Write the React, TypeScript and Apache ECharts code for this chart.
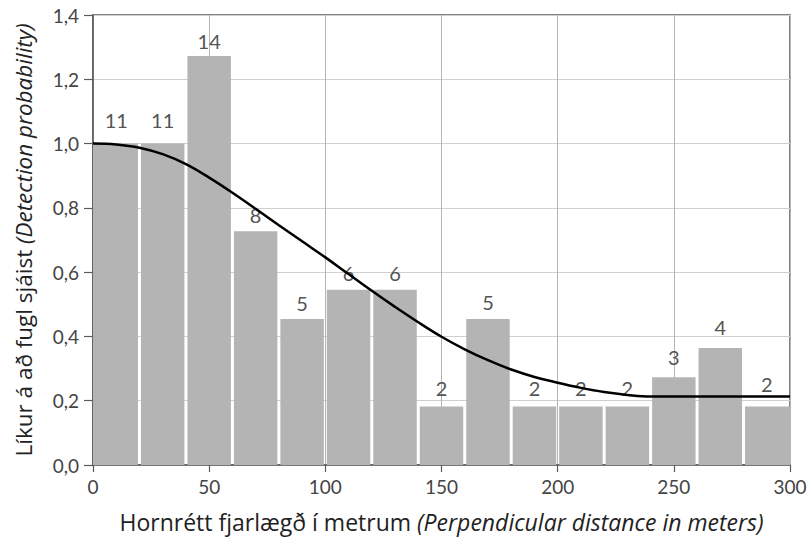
import React, { useEffect, useRef } from "react";
import * as echarts from "echarts";

// Histogram bins (metres) and number of birds per bin
const binStarts = [0, 20, 40, 60, 80, 100, 120, 140, 160, 180, 200, 220, 240, 260, 280];
const binWidth = 20;
const counts = [11, 11, 14, 8, 5, 6, 6, 2, 5, 2, 2, 2, 3, 4, 2];
// Bars are scaled so that the first bin equals probability 1
const scaleCount = 11;

// Fitted detection function
const curveX = [0, 10, 20, 30, 40, 50, 60, 70, 80, 90, 100, 110, 120, 130, 140, 150, 160, 170, 180, 190, 200, 210, 220, 230, 240, 250, 260, 270, 280, 290, 300];
const curveY = [1.0, 0.997, 0.987, 0.967, 0.936, 0.894, 0.847, 0.797, 0.746, 0.696, 0.646, 0.594, 0.542, 0.492, 0.444, 0.399, 0.36, 0.326, 0.297, 0.274, 0.256, 0.24, 0.227, 0.218, 0.213, 0.213, 0.213, 0.213, 0.213, 0.213, 0.213];

const yTicks = [0, 0.2, 0.4, 0.6, 0.8, 1.0, 1.2, 1.4];

// how far above each bar its count is written (px)
const labelLift = [24, 24, 15, 16, 16, 17, 17, 19, 17, 19, 19, 19, 20, 21, 23];

const FONT = "Lato, 'Open Sans', sans-serif";
const TITLE_FONT = "'Open Sans', Lato, sans-serif";

export default function App() {
  const ref = useRef<HTMLDivElement>(null);

  useEffect(() => {
    if (!ref.current) return;
    const chart = echarts.init(ref.current, undefined, { renderer: "svg" });

    const barData = binStarts.map((s, i) => [s, s + binWidth, counts[i] / scaleCount, counts[i]]);
    const lineData = curveX.map((x, i) => [x, curveY[i]]);

    chart.setOption({
      animation: false,
      backgroundColor: "#ffffff",
      textStyle: { fontFamily: FONT },
      grid: {
        left: 93,
        top: 15,
        width: 697,
        height: 450,
        show: true,
        borderColor: "#5a5a5a",
        borderWidth: 1.5,
        backgroundColor: "transparent",
      },
      xAxis: {
        type: "value",
        min: 0,
        max: 300,
        interval: 50,
        name: "{n|Hornrétt fjarlægð í metrum }{i|(Perpendicular distance in meters)}",
        nameLocation: "middle",
        nameGap: 45,
        nameTextStyle: {
          rich: {
            n: { fontSize: 23, color: "#222", fontFamily: TITLE_FONT },
            i: { fontSize: 23, color: "#222", fontFamily: TITLE_FONT, fontStyle: "italic" },
          },
        },
        axisLine: { show: true, lineStyle: { color: "#5a5a5a", width: 1.5 } },
        axisTick: { show: true, length: 7, lineStyle: { color: "#5a5a5a", width: 1.2 } },
        axisLabel: { color: "#444", fontSize: 19, margin: 12, fontFamily: FONT },
        splitLine: { show: true, lineStyle: { color: "#b4b4b4", width: 1 } },
      },
      yAxis: {
        type: "value",
        min: 0,
        max: 1.4,
        interval: 0.2,
        name: "{n|Líkur á að fugl sjáist }{i|(Detection probability)}",
        nameLocation: "middle",
        nameGap: 58,
        nameTextStyle: {
          rich: {
            n: { fontSize: 22.5, color: "#222", fontFamily: TITLE_FONT },
            i: { fontSize: 22.5, color: "#222", fontFamily: TITLE_FONT, fontStyle: "italic" },
          },
        },
        axisLine: { show: true, lineStyle: { color: "#5a5a5a", width: 1.5 } },
        axisTick: { show: true, length: 9, lineStyle: { color: "#5a5a5a", width: 1.2 } },
        axisLabel: {
          color: "#444",
          fontSize: 19,
          margin: 14,
          fontFamily: FONT,
          formatter: (v: number) => {
            const t = yTicks.find((k) => Math.abs(k - v) < 1e-6);
            return (t === undefined ? v : t).toFixed(1).replace(".", ",");
          },
        },
        splitLine: { show: true, lineStyle: { color: "#cfcfcf", width: 1 } },
      },
      series: [
        {
          type: "custom",
          data: barData,
          encode: { x: [0, 1], y: 2 },
          z: 2,
          renderItem: (params: any, api: any) => {
            const x0 = api.value(0);
            const x1 = api.value(1);
            const h = api.value(2);
            const n = api.value(3);
            const top = api.coord([x0, h]);
            const bottom = api.coord([x1, 0]);
            const gap = 1.5;
            const left = top[0] + (x0 === 0 ? 0 : gap);
            const right = bottom[0] - (x1 === 300 ? 0 : gap);
            return {
              type: "group",
              children: [
                {
                  type: "rect",
                  shape: { x: left, y: top[1], width: right - left, height: bottom[1] - top[1] },
                  style: { fill: "#b4b4b4" },
                },
                {
                  type: "text",
                  z2: 10,
                  style: {
                    text: String(n),
                    x: (top[0] + bottom[0]) / 2,
                    y: top[1] - labelLift[params.dataIndex],
                    align: "center",
                    verticalAlign: "middle",
                    fill: "#555",
                    font: `20px ${FONT}`,
                  },
                },
              ],
            };
          },
        },
        {
          type: "line",
          data: lineData,
          z: 3,
          showSymbol: false,
          symbol: "none",
          smooth: 0.4,
          lineStyle: { color: "#000", width: 2.5 },
        },
      ],
    });

    return () => chart.dispose();
  }, []);

  return (
    <div
      ref={ref}
      style={{ position: "fixed", left: 0, top: 0, width: 811, height: 538, background: "#fff" }}
    />
  );
}
